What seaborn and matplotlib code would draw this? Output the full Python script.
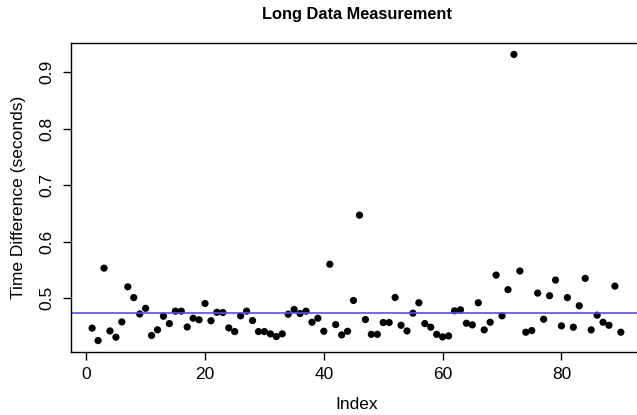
import matplotlib
matplotlib.use("Agg")
import matplotlib.pyplot as plt
import numpy as np
import pandas as pd
import seaborn as sns

# time differences (seconds), index 1..90
time_diff = [
    0.447, 0.425, 0.553, 0.442, 0.431, 0.458, 0.520, 0.501, 0.472, 0.482,
    0.434, 0.444, 0.468, 0.455, 0.477, 0.477, 0.449, 0.4645, 0.4617, 0.4906,
    0.460, 0.475, 0.4746, 0.4474, 0.4409, 0.4687, 0.477, 0.4604, 0.4409, 0.4409,
    0.4368, 0.432, 0.4368, 0.4716, 0.480, 0.4728, 0.477, 0.4574, 0.4645, 0.4414,
    0.560, 0.4533, 0.435, 0.4414, 0.4959, 0.6468, 0.4622, 0.436, 0.436, 0.4569,
    0.4569, 0.5012, 0.452, 0.442, 0.4734, 0.4918, 0.455, 0.4486, 0.436, 0.4314,
    0.4332, 0.4776, 0.4794, 0.4556, 0.4527, 0.4918, 0.4439, 0.4574, 0.5408, 0.4687,
    0.515, 0.931, 0.548, 0.4397, 0.4427, 0.5089, 0.4627, 0.5043, 0.532, 0.451,
    0.501, 0.4486, 0.4865, 0.535, 0.4439, 0.4699, 0.4574, 0.452, 0.5213, 0.4397,
]
index = list(range(1, len(time_diff) + 1))
x_ticks = [0, 20, 40, 60, 80]
y_ticks = [0.5, 0.6, 0.7, 0.8, 0.9]

df = pd.DataFrame({"Index": index, "Time Difference (seconds)": time_diff})

sns.set_theme(style="ticks")
plt.rcParams["font.family"] = ["Liberation Sans", "DejaVu Sans"]
plt.rcParams["text.color"] = "black"
plt.rcParams["axes.labelcolor"] = "black"

fig = plt.figure(figsize=(6.37, 4.15), dpi=100)
ax = fig.add_axes([71 / 637, 63 / 415, 571 / 637, 309 / 415])

sns.scatterplot(data=df, x="Index", y="Time Difference (seconds)", color="black",
                s=27, edgecolor="none", ax=ax)
ax.axhline(np.mean(time_diff), color="#4f4fff", lw=1.2, zorder=1)

# R-style 4% padding around the data range
xr = max(index) - min(index)
yr = max(time_diff) - min(time_diff)
ax.set_xlim(min(index) - 0.04 * xr, max(index) + 0.04 * xr)
ax.set_ylim(min(time_diff) - 0.04 * yr, max(time_diff) + 0.04 * yr)

ax.set_xticks(x_ticks)
ax.set_yticks(y_ticks)
ax.set_yticklabels([f"{v:.1f}" for v in y_ticks], rotation=90, va="center")
ax.tick_params(axis="both", length=6, width=1, color="black", labelsize=12.5,
               labelcolor="black")
ax.tick_params(axis="y", pad=6)
ax.tick_params(axis="x", pad=5)
for sp in ax.spines.values():
    sp.set_visible(True)
    sp.set_color("black")
    sp.set_linewidth(1)

ax.set_xlabel("Index", fontsize=12.5, color="black")
ax.set_ylabel("Time Difference (seconds)", fontsize=12.5, color="black")
ax.xaxis.set_label_coords(0.5, -0.145)
ax.yaxis.set_label_coords(-0.078, 0.5)
ax.set_title("Long Data Measurement", fontsize=11.8, fontweight="bold",
             color="black", y=1.05)

fig.savefig("out.png", dpi=100)
